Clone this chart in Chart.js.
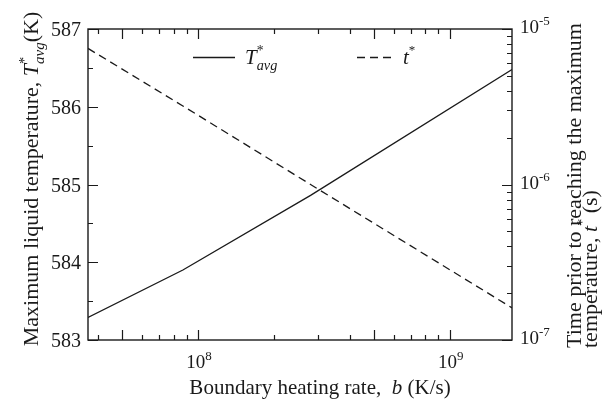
<!DOCTYPE html>
<html>
<head>
<meta charset="utf-8">
<script src="https://cdn.jsdelivr.net/npm/chart.js@4.4.0/dist/chart.umd.min.js"></script>
<style>
  html, body { margin: 0; padding: 0; background: #fff; }
</style>
</head>
<body>
<canvas id="grafico" width="603" height="403"></canvas>
<script>
// valores
var taxaAquecimento = [3.65e7, 8.7e7, 2.8e8, 1.77e9];   // b (K/s)
var temperaturaMax = [583.29, 583.90, 584.86, 586.48];  // T*avg (K)
var tempoAteMax = [7.5e-6, 3.2e-6, 1.0e-6, 1.61e-7];    // t* (s)

var ticksX = [1e8, 1e9];
var expoentesX = ['8', '9'];
var ticksEsq = [583, 584, 585, 586, 587];
var ticksDir = [1e-7, 1e-6, 1e-5];
var expoentesDir = ['-7', '-6', '-5'];

var FONTE = "'Liberation Serif', 'DejaVu Serif', serif";
var COR = '#1a1a1a';

// escreve partes de texto com fontes/deslocamentos diferentes
function desenharTexto(ctx, partes, x, y, alinhamento) {
    var total = 0;
    var pos = 0;
    partes.forEach(function (p) {
        ctx.font = p.f;
        p.w = ctx.measureText(p.t).width;
        if (p.empilhar) {
            p.x0 = p.ant.x0;
        } else {
            p.x0 = pos;
        }
        pos = Math.max(pos, p.x0 + p.w);
        total = pos;
    });
    var inicio = x;
    if (alinhamento === 'center') inicio = x - total / 2;
    if (alinhamento === 'right') inicio = x - total;
    partes.forEach(function (p) {
        ctx.font = p.f;
        ctx.fillText(p.t, inicio + p.x0, y + (p.dy || 0));
    });
}

function parte(t, f, dy) {
    return { t: t, f: f, dy: dy || 0 };
}

function tMedio(tam) {
    var estrela = parte('*', (tam * 0.65) + 'px ' + FONTE, -tam * 0.42);
    var avg = parte('avg', 'italic ' + (tam * 0.68) + 'px ' + FONTE, tam * 0.28);
    avg.empilhar = true;
    avg.ant = estrela;
    return [parte('T', 'italic ' + tam + 'px ' + FONTE), estrela, avg];
}

var pluginEixos = {
    id: 'eixos',
    afterDraw: function (chart) {
        var ctx = chart.ctx;
        var ca = chart.chartArea;
        var sx = chart.scales.x;
        var sy = chart.scales.y;
        var sy2 = chart.scales.y2;

        ctx.save();
        ctx.strokeStyle = COR;
        ctx.fillStyle = COR;
        ctx.lineWidth = 1.4;
        ctx.strokeRect(ca.left, ca.top, ca.right - ca.left, ca.bottom - ca.top);

        ctx.lineWidth = 1.2;
        ctx.beginPath();
        // marcas do eixo x (em baixo e em cima)
        for (var d = 7; d <= 9; d++) {
            for (var m = 1; m <= 9; m++) {
                var v = m * Math.pow(10, d);
                if (v < sx.min || v > sx.max) continue;
                var px = Math.round(sx.getPixelForValue(v)) + 0.5;
                var len = (m === 1 || m === 5) ? 10 : 5;
                ctx.moveTo(px, ca.bottom);
                ctx.lineTo(px, ca.bottom - len);
                ctx.moveTo(px, ca.top);
                ctx.lineTo(px, ca.top + len);
            }
        }
        // marcas do eixo esquerdo
        for (var t = 583; t <= 587; t += 0.5) {
            var py = Math.round(sy.getPixelForValue(t)) + 0.5;
            var l = (t % 1 === 0) ? 10 : 5;
            ctx.moveTo(ca.left, py);
            ctx.lineTo(ca.left + l, py);
        }
        // marcas do eixo direito (log)
        for (var e = -7; e <= -5; e++) {
            for (var k = 1; k <= 9; k++) {
                var w = k * Math.pow(10, e);
                if (w < sy2.min * 0.999 || w > sy2.max * 1.001) continue;
                var py2 = Math.round(sy2.getPixelForValue(w)) + 0.5;
                var l2 = (k === 1) ? 10 : 5;
                ctx.moveTo(ca.right, py2);
                ctx.lineTo(ca.right - l2, py2);
            }
        }
        ctx.stroke();

        // rótulos
        ctx.textBaseline = 'alphabetic';
        ctx.textAlign = 'left';
        ticksEsq.forEach(function (v) {
            var py = sy.getPixelForValue(v);
            desenharTexto(ctx, [parte(String(v), '20px ' + FONTE)], 81, py + 7, 'right');
        });
        ticksX.forEach(function (v, i) {
            var px = sx.getPixelForValue(v);
            desenharTexto(ctx, [parte('10', '19px ' + FONTE), parte(expoentesX[i], '13px ' + FONTE, -8)], px + 1, 368, 'center');
        });
        ticksDir.forEach(function (v, i) {
            var py = sy2.getPixelForValue(v);
            desenharTexto(ctx, [parte('10', '19px ' + FONTE), parte(expoentesDir[i], '13px ' + FONTE, -8)], 520, py + 4, 'left');
        });

        // título do eixo x
        desenharTexto(ctx, [
            parte('Boundary heating rate,  ', '21px ' + FONTE),
            parte('b', 'italic 21px ' + FONTE),
            parte(' (K/s)', '21px ' + FONTE)
        ], 320, 394, 'center');

        // título do eixo esquerdo
        ctx.save();
        ctx.translate(38, 179);
        ctx.rotate(-Math.PI / 2);
        desenharTexto(ctx, [parte('Maximum liquid temperature, ', '22px ' + FONTE)]
            .concat(tMedio(22))
            .concat([parte('(K)', '22px ' + FONTE)]), 0, 0, 'center');
        ctx.restore();

        // título do eixo direito (duas linhas)
        ctx.save();
        ctx.translate(581, 348);
        ctx.rotate(-Math.PI / 2);
        desenharTexto(ctx, [parte('Time prior to reaching the maximum', '22px ' + FONTE)], 0, 0, 'left');
        desenharTexto(ctx, [
            parte('temperature, ', '22px ' + FONTE),
            parte('t', 'italic 22px ' + FONTE),
            parte('*', '14px ' + FONTE, -10),
            parte(' (s)', '22px ' + FONTE)
        ], 0, 16, 'left');
        ctx.restore();

        // legenda
        ctx.lineWidth = 1.3;
        ctx.beginPath();
        ctx.moveTo(193, 57.5);
        ctx.lineTo(235, 57.5);
        ctx.stroke();
        desenharTexto(ctx, tMedio(21), 245, 64, 'left');
        ctx.setLineDash([8, 5]);
        ctx.beginPath();
        ctx.moveTo(357, 57.5);
        ctx.lineTo(396, 57.5);
        ctx.stroke();
        ctx.setLineDash([]);
        desenharTexto(ctx, [parte('t', 'italic 21px ' + FONTE), parte('*', '13px ' + FONTE, -10)], 403, 64, 'left');

        ctx.restore();
    }
};

var ctx = document.getElementById('grafico').getContext('2d');

new Chart(ctx, {
    type: 'line',
    data: {
        datasets: [{
            label: 'T*avg',
            data: taxaAquecimento.map(function (b, i) { return { x: b, y: temperaturaMax[i] }; }),
            yAxisID: 'y',
            borderColor: COR,
            borderWidth: 1.3,
            pointRadius: 0,
            tension: 0,
            fill: false
        }, {
            label: 't*',
            data: taxaAquecimento.map(function (b, i) { return { x: b, y: tempoAteMax[i] }; }),
            yAxisID: 'y2',
            borderColor: COR,
            borderWidth: 1.3,
            borderDash: [8, 5],
            pointRadius: 0,
            tension: 0,
            fill: false
        }]
    },
    options: {
        responsive: false,
        animation: false,
        devicePixelRatio: 1,
        layout: {
            padding: { left: 88, right: 91, top: 29, bottom: 63 }
        },
        plugins: {
            legend: { display: false },
            tooltip: { enabled: false }
        },
        scales: {
            x: { type: 'logarithmic', min: 3.65e7, max: 1.77e9, display: false },
            y: { type: 'linear', min: 583, max: 587, display: false },
            y2: { type: 'logarithmic', min: 1e-7, max: 1e-5, display: false }
        }
    },
    plugins: [pluginEixos]
});
</script>
</body>
</html>
